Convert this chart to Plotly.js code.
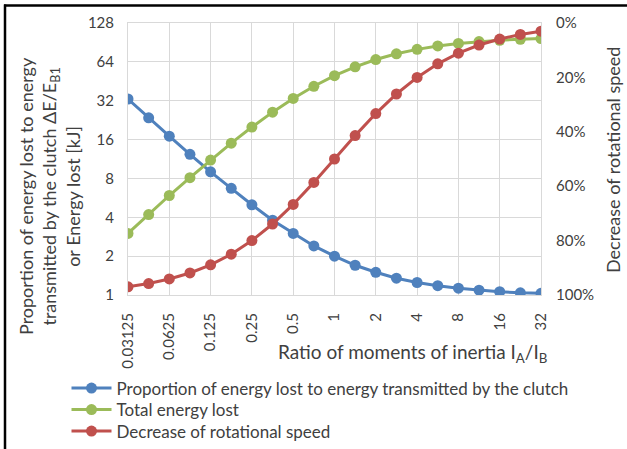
<!DOCTYPE html>
<html><head><meta charset="utf-8">
<script src="https://cdn.plot.ly/plotly-3.0.1.min.js"></script>
<style>html,body{margin:0;padding:0;background:#fff;} #chart{width:627px;height:449px;}</style>
</head><body><div id="chart"></div>
<script>
// Ratio of moments of inertia IA/IB (x positions of the points)
const ratio = [0.03125, 0.0442, 0.0625, 0.0884, 0.125, 0.1768, 0.25, 0.3536, 0.5, 0.7071, 1, 1.414, 2, 2.828, 4, 5.657, 8, 11.31, 16, 22.63, 32];
// Proportion of energy lost to energy transmitted by the clutch (left axis)
const proportion = [33, 23.6, 17, 12.3, 9, 6.7, 5, 3.8, 3, 2.4, 2, 1.7, 1.5, 1.35, 1.25, 1.18, 1.13, 1.09, 1.06, 1.04, 1.03];
// Total energy lost [kJ] (left axis)
const totalEnergy = [3.0, 4.2, 5.9, 8.1, 11.1, 15.0, 20.0, 26.1, 33.3, 41.4, 50, 58.6, 66.7, 73.9, 80, 85, 88.9, 91.9, 94.1, 95.8, 97];
// Decrease of rotational speed [%] (right axis)
const speedDecrease = [97, 95.8, 94.1, 91.9, 88.9, 85, 80, 73.9, 66.7, 58.6, 50, 41.4, 33.3, 26.1, 20, 15, 11.1, 8.1, 5.9, 4.2, 3];

const seriesNames = ['Proportion of energy lost to energy transmitted by the clutch', 'Total energy lost', 'Decrease of rotational speed'];
const xTickVals = [0.03125, 0.0625, 0.125, 0.25, 0.5, 1, 2, 4, 8, 16, 32];
const xTickText = ['0.03125', '0.0625', '0.125', '0.25', '0.5', '1', '2', '4', '8', '16', '32'];
const yTickVals = [1, 2, 4, 8, 16, 32, 64, 128];
const yTickText = ['1', '2', '4', '8', '16', '32', '64', '128'];
const y2TickVals = [0, 20, 40, 60, 80, 100];
const y2TickText = ['0%', '20%', '40%', '60%', '80%', '100%'];

const colors = ['#4F81BD', '#9BBB59', '#C0504D'];
const FONT = 'Lato, Carlito, "Open Sans", sans-serif';
const TXT = '#404040';
const GRID = '#D9D9D9';

const L = 128, R = 541, T = 23, B = 295;
const W = R - L, H = B - T;
const px = v => (v - L) / W;
const py = v => (B - v) / H;

const legendNames = ['legend', 'legend2', 'legend3'];
const legendRows = [388.5, 410, 431.5];

function mk(y, i, axis) {
  return {
    x: ratio, y: y, name: seriesNames[i], type: 'scatter', mode: 'lines+markers',
    yaxis: axis, legend: legendNames[i],
    line: {color: colors[i], width: 3},
    marker: {color: colors[i], size: 11}
  };
}
const data = [mk(proportion, 0, 'y'), mk(totalEnergy, 1, 'y'), mk(speedDecrease, 2, 'y2')];

function leg(row) {
  return {
    x: px(66.5), y: py(row), xanchor: 'left', yanchor: 'middle',
    font: {family: FONT, size: 17, color: TXT},
    bgcolor: 'rgba(0,0,0,0)', itemwidth: 40
  };
}

const layout = {
  width: 627, height: 449,
  margin: {l: L, r: 627 - R, t: T, b: 449 - B, autoexpand: false},
  paper_bgcolor: '#fff', plot_bgcolor: '#fff',
  font: {family: FONT, size: 15, color: TXT},
  showlegend: true,
  legend: leg(legendRows[0]),
  legend2: leg(legendRows[1]),
  legend3: leg(legendRows[2]),
  xaxis: {
    type: 'log', range: [Math.log10(0.03125), Math.log10(32)],
    tickmode: 'array', tickvals: xTickVals, ticktext: xTickText, tickangle: -90,
    tickfont: {family: FONT, size: 15, color: TXT},
    showgrid: true, gridcolor: GRID, gridwidth: 1,
    showline: true, linecolor: GRID, linewidth: 1, mirror: true,
    zeroline: false, ticks: '', ticklabelstandoff: 11
  },
  yaxis: {
    type: 'log', range: [0, Math.log10(128)],
    tickmode: 'array', tickvals: yTickVals, ticktext: yTickText,
    tickfont: {family: FONT, size: 15, color: TXT},
    showgrid: true, gridcolor: GRID, gridwidth: 1,
    showline: true, linecolor: GRID, linewidth: 1, mirror: true,
    zeroline: false, ticks: '', ticklabelstandoff: 10
  },
  yaxis2: {
    overlaying: 'y', side: 'right', range: [100, 0],
    tickmode: 'array', tickvals: y2TickVals, ticktext: y2TickText,
    tickfont: {family: FONT, size: 15, color: TXT},
    showgrid: false, zeroline: false, showline: false, ticks: '', ticklabelstandoff: 14
  },
  annotations: [
    {text: 'Ratio of moments of inertia I<sub>A</sub>/I<sub>B</sub>', xref: 'paper', yref: 'paper',
     x: px(412), y: py(353), xanchor: 'center', yanchor: 'middle', showarrow: false,
     font: {family: FONT, size: 19, color: TXT}},
    {text: 'Proportion of energy lost to energy<br>transmitted by the clutch ΔE/E<sub>B1</sub><br>or Energy lost [kJ]',
     xref: 'paper', yref: 'paper', x: px(49), y: py(196), xanchor: 'center', yanchor: 'middle',
     textangle: -90, showarrow: false, font: {family: FONT, size: 18, color: TXT}},
    {text: 'Decrease of rotational speed', xref: 'paper', yref: 'paper', x: px(613), y: py(160),
     xanchor: 'center', yanchor: 'middle', textangle: -90, showarrow: false,
     font: {family: FONT, size: 18, color: TXT}}
  ],
  shapes: [
    {type: 'line', xref: 'paper', yref: 'paper', x0: px(4), x1: px(627), y0: py(5.5), y1: py(5.5),
     line: {color: '#000', width: 2.5}},
    {type: 'line', xref: 'paper', yref: 'paper', x0: px(5), x1: px(5), y0: py(4.5), y1: py(449),
     line: {color: '#000', width: 2.5}}
  ]
};

Plotly.newPlot('chart', data, layout, {displayModeBar: false, staticPlot: true});
</script>
</body></html>
